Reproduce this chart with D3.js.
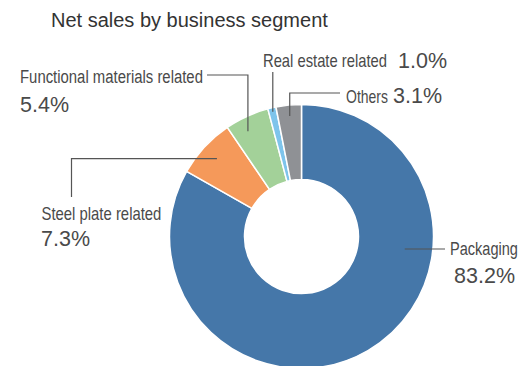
<!DOCTYPE html>
<html>
<head>
<meta charset="utf-8">
<script src="https://cdn.jsdelivr.net/npm/d3@7"></script>
<style>
  html, body { margin: 0; padding: 0; background: #fff; }
  svg { display: block; }
  text { font-family: "Liberation Sans", Arial, Helvetica, sans-serif; }
</style>
</head>
<body>
<svg id="chart" width="522" height="366"></svg>
<script>
// Segment shares of net sales (%), drawn clockwise from 12 o'clock
const segments = ["Packaging", "Steel plate related", "Functional materials related", "Real estate related", "Others"];
const shares = [83.2, 7.3, 5.4, 1.0, 3.1];
const colors = ["#4577a9", "#f5995a", "#a3d199", "#7ec4eb", "#8f9195"];

const titleText = "Net sales by business segment";

// Label placement: name position and width, percentage position, and leader route
// (t = where along the slice the leader starts, r = radius of that point)
const labelLayout = [
  { name: [450, 255, 68], pct: [515, 283, "end"], t: 0.3235, r: 104, route: [{ x: 445 }] },
  { name: [41.5, 220, 120], pct: [41, 245.5, "start"], t: 0.5, r: 115, route: [{ x: 71.5 }, { y: 197 }] },
  { name: [20, 83, 183], pct: [20, 111.5, "start"], t: 0.37, r: 118, route: [{ y: 75 }, { x: 207 }] },
  { name: [263, 67, 124], pct: [398, 67.5, "start"], t: 0.5, r: 128, route: [{ y: 72 }] },
  { name: [346, 103, 42], pct: [393, 103, "start"], t: 0.5, r: 121, route: [{ y: 93 }, { x: 340 }] }
];

const svg = d3.select("#chart");
const cx = 301.5, cy = 236.5;
const outerR = 132, innerR = 57;

svg.append("text")
  .attr("x", 51).attr("y", 26.5)
  .attr("font-size", 20)
  .attr("fill", "#333")
  .text(titleText);

const data = segments.map((s, i) => ({ name: s, value: shares[i], color: colors[i], layout: labelLayout[i] }));

const pie = d3.pie().sort(null).value(d => d.value);
const arcs = pie(data);
const arc = d3.arc().innerRadius(innerR).outerRadius(outerR);

const g = svg.append("g").attr("transform", `translate(${cx},${cy})`);

g.selectAll("path.slice")
  .data(arcs)
  .join("path")
  .attr("class", "slice")
  .attr("d", arc)
  .attr("fill", d => d.data.color)
  .attr("stroke", "#fff")
  .attr("stroke-width", 1.5)
  .attr("stroke-linejoin", "round");

// Leader lines
arcs.forEach(a => {
  const L = a.data.layout;
  const ang = a.startAngle + (a.endAngle - a.startAngle) * L.t;
  let px = cx + L.r * Math.sin(ang);
  let py = cy - L.r * Math.cos(ang);
  const pts = [[px, py]];
  L.route.forEach(step => {
    if (step.x !== undefined) px = step.x;
    if (step.y !== undefined) py = step.y;
    pts.push([px, py]);
  });
  svg.append("path")
    .attr("d", d3.line()(pts))
    .attr("fill", "none")
    .attr("stroke", "#555")
    .attr("stroke-width", 1.2);
});

// Segment names (horizontally condensed to a set width) and percentages
arcs.forEach(a => {
  const L = a.data.layout;
  const t = svg.append("text")
    .attr("x", 0).attr("y", 0)
    .attr("font-size", 18)
    .attr("fill", "#4a4a4a")
    .text(a.data.name);
  const natural = t.node().getComputedTextLength();
  const sx = L.name[2] / natural;
  t.attr("transform", `translate(${L.name[0]},${L.name[1]}) scale(${sx},1)`);

  svg.append("text")
    .attr("x", L.pct[0]).attr("y", L.pct[1])
    .attr("font-size", 21.5)
    .attr("fill", "#4a4a4a")
    .attr("text-anchor", L.pct[2])
    .text(d3.format(".1f")(a.data.value) + "%");
});
</script>
</body>
</html>
